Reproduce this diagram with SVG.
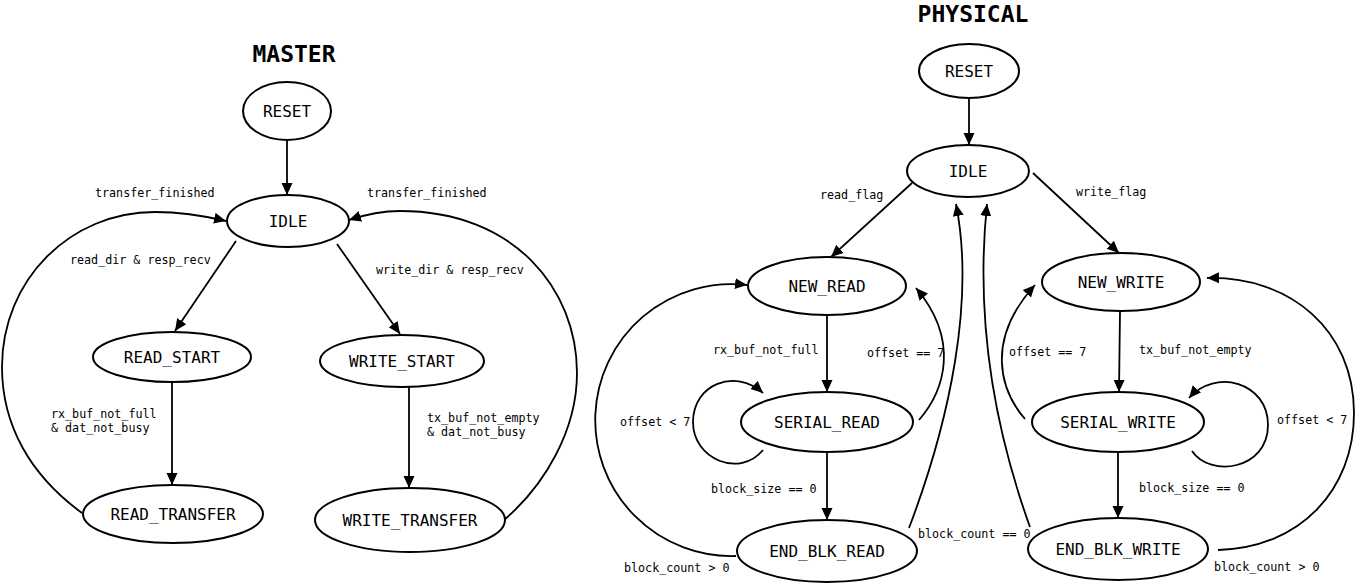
<svg xmlns="http://www.w3.org/2000/svg" width="1357" height="585" viewBox="0 0 1357 585">
<style>
  .node ellipse { fill: #ffffff; stroke: #000000; stroke-width: 2; }
  .node text { font-family: "DejaVu Sans Mono", "Liberation Mono", monospace; font-size: 16px; text-anchor: middle; fill: #000; }
  .edge { fill: none; stroke: #000000; stroke-width: 1.8; }
  .arrow { marker-end: url(#ah); }
  .lbl { font-family: "DejaVu Sans Mono", "Liberation Mono", monospace; font-size: 11.7px; fill: #000; }
  .title { font-family: "DejaVu Sans Mono", "Liberation Mono", monospace; font-size: 23px; font-weight: bold; text-anchor: middle; fill: #000; }
</style>
<defs>
  <marker id="ah" markerUnits="userSpaceOnUse" markerWidth="12" markerHeight="12" viewBox="0 0 12 12" refX="12" refY="6" orient="auto">
    <path d="M0,0.5 L12,6 L0,11.5 Z" fill="#000"/>
  </marker>
</defs>
<rect width="1357" height="585" fill="#ffffff"/>

<text class="title" x="294" y="62">MASTER</text>
<text class="title" x="973" y="22">PHYSICAL</text>

<g id="connectors">
  <!-- master -->
  <path class="edge arrow" d="M287,140 L287,195"/>
  <path class="edge arrow" d="M236,241 L175,331"/>
  <path class="edge arrow" d="M337,244 L400,334"/>
  <path class="edge arrow" d="M172,382 L172,485"/>
  <path class="edge arrow" d="M409,387 L409,488"/>
  <path class="edge arrow" d="M82,513 C30,475 2,425 2,367 C2,280 70,212 155,212 C180,212 205,216 226,221"/>
  <path class="edge arrow" d="M504,520 C545,485 577,430 577,373 C577,290 515,211 400,211 C380,211 364,215 349,220"/>
  <!-- physical -->
  <path class="edge arrow" d="M969,98 L969,145"/>
  <path class="edge arrow" d="M912,183 L831,257"/>
  <path class="edge arrow" d="M1033,173 L1119,253"/>
  <path class="edge arrow" d="M827,315 L827,392"/>
  <path class="edge arrow" d="M1120,311 L1119,392"/>
  <path class="edge arrow" d="M827,452 L827,520"/>
  <path class="edge arrow" d="M1118,452 L1118,518"/>
  <path class="edge arrow" d="M736,556 A136,136 0 1 1 747,285"/>
  <path class="edge arrow" d="M1218,550 C1300,548 1354,490 1354,413 C1354,330 1290,276 1207,278"/>
  <path class="edge arrow" d="M919,420 C945,390 960,340 916,288"/>
  <path class="edge arrow" d="M1025,419 C1000,390 985,340 1035,285"/>
  <path class="edge arrow" d="M763,450 C740,478 693,460 693,422 C693,384 735,368 763,393"/>
  <path class="edge arrow" d="M1192,451 C1210,478 1268,470 1268,425 C1268,382 1215,368 1189,398"/>
  <path class="edge arrow" d="M909,528 C950,420 975,300 956,204"/>
  <path class="edge arrow" d="M1030,527 C995,430 975,320 987,204"/>

  <!-- labels -->
  <text class="lbl" x="95" y="197">transfer_finished</text>
  <text class="lbl" x="367" y="197">transfer_finished</text>
  <text class="lbl" x="70" y="264">read_dir &amp; resp_recv</text>
  <text class="lbl" x="376" y="274">write_dir &amp; resp_recv</text>
  <text class="lbl" x="51" y="418">rx_buf_not_full</text>
  <text class="lbl" x="51" y="432">&amp; dat_not_busy</text>
  <text class="lbl" x="427" y="422">tx_buf_not_empty</text>
  <text class="lbl" x="427" y="436">&amp; dat_not_busy</text>

  <text class="lbl" x="820" y="199">read_flag</text>
  <text class="lbl" x="1076" y="196">write_flag</text>
  <text class="lbl" x="713" y="354">rx_buf_not_full</text>
  <text class="lbl" x="867" y="357">offset == 7</text>
  <text class="lbl" x="1009" y="356">offset == 7</text>
  <text class="lbl" x="1139" y="354">tx_buf_not_empty</text>
  <text class="lbl" x="620" y="426">offset &lt; 7</text>
  <text class="lbl" x="1277" y="424">offset &lt; 7</text>
  <text class="lbl" x="711" y="493">block_size == 0</text>
  <text class="lbl" x="1139" y="492">block_size == 0</text>
  <text class="lbl" x="918" y="538">block_count == 0</text>
  <text class="lbl" x="624" y="572">block_count &gt; 0</text>
  <text class="lbl" x="1214" y="571">block_count &gt; 0</text>
</g>

<g id="m_reset" class="node"><ellipse cx="287" cy="111" rx="44" ry="29"/><text x="287" y="117">RESET</text></g>
<g id="m_idle" class="node"><ellipse cx="288" cy="221" rx="61" ry="26"/><text x="288" y="227">IDLE</text></g>
<g id="m_read_start" class="node"><ellipse cx="172" cy="357" rx="79" ry="25"/><text x="172" y="363">READ_START</text></g>
<g id="m_write_start" class="node"><ellipse cx="402" cy="361" rx="82" ry="26"/><text x="402" y="367">WRITE_START</text></g>
<g id="m_read_transfer" class="node"><ellipse cx="173" cy="514" rx="90" ry="29"/><text x="173" y="520">READ_TRANSFER</text></g>
<g id="m_write_transfer" class="node"><ellipse cx="410" cy="520" rx="95" ry="32"/><text x="410" y="526">WRITE_TRANSFER</text></g>

<g id="p_reset" class="node"><ellipse cx="969" cy="71" rx="50" ry="27"/><text x="969" y="77">RESET</text></g>
<g id="p_idle" class="node"><ellipse cx="968" cy="171" rx="61" ry="26"/><text x="968" y="177">IDLE</text></g>
<g id="p_new_read" class="node"><ellipse cx="827" cy="286" rx="79" ry="29"/><text x="827" y="292">NEW_READ</text></g>
<g id="p_new_write" class="node"><ellipse cx="1121" cy="282" rx="79" ry="29"/><text x="1121" y="288">NEW_WRITE</text></g>
<g id="p_serial_read" class="node"><ellipse cx="827" cy="422" rx="86" ry="30"/><text x="827" y="428">SERIAL_READ</text></g>
<g id="p_serial_write" class="node"><ellipse cx="1118" cy="422" rx="86" ry="30"/><text x="1118" y="428">SERIAL_WRITE</text></g>
<g id="p_end_blk_read" class="node"><ellipse cx="827" cy="551" rx="90" ry="31"/><text x="827" y="557">END_BLK_READ</text></g>
<g id="p_end_blk_write" class="node"><ellipse cx="1118" cy="549" rx="90" ry="31"/><text x="1118" y="555">END_BLK_WRITE</text></g>
</svg>
